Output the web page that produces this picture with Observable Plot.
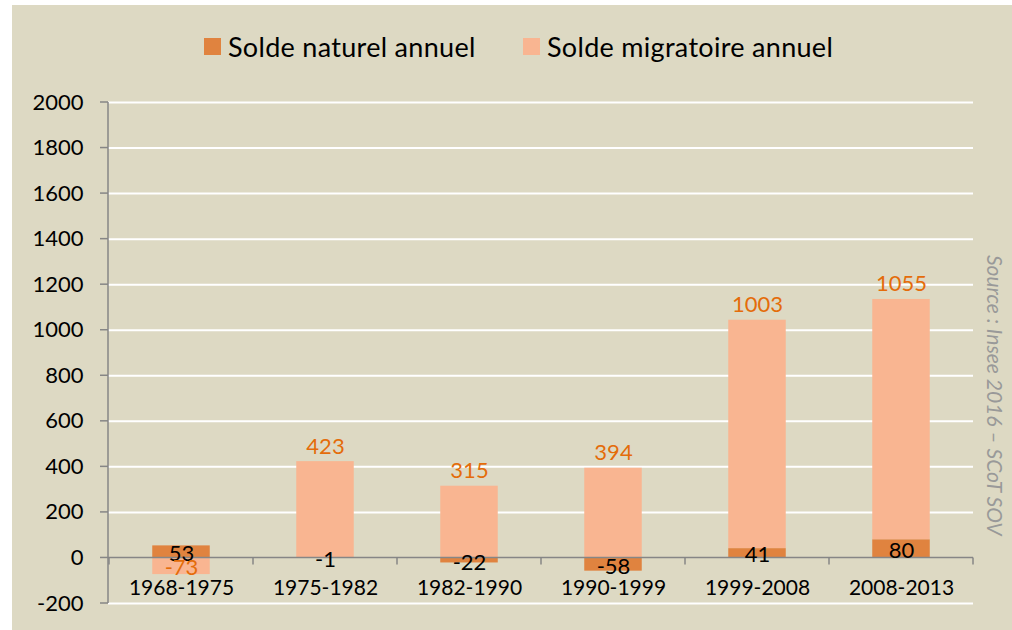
<!DOCTYPE html>
<html>
<head>
<meta charset="utf-8">
<script src="https://cdn.jsdelivr.net/npm/d3@7"></script>
<script src="https://cdn.jsdelivr.net/npm/@observablehq/plot@0.6"></script>
<style>
  html, body { margin: 0; padding: 0; background: #ffffff; }
  body { position: relative; width: 1012px; height: 630px; overflow: hidden; font-family: Lato, "Noto Sans", sans-serif; }
  #panel { position: absolute; left: 12px; top: 5px; width: 1000px; height: 625px; background: #DDD9C3; }
  .leg { position: absolute; top: 29px; height: 34px; display: flex; align-items: center; font-size: 27px; letter-spacing: 0.3px; color: #000; white-space: nowrap; }
  .sw { width: 17px; height: 17px; margin-right: 7px; flex: none; }
  #chart { position: absolute; left: 0; top: 80px; }
  #source { position: absolute; left: 984px; top: 255px; writing-mode: vertical-rl; font-style: italic; color: #999999; font-size: 21px; white-space: nowrap; line-height: 22px; }
</style>
</head>
<body>
<div id="panel"></div>
<div id="legend"></div>
<div id="chart"></div>
<div id="source"></div>
<script>
// ---- data ----
const periods = ["1968-1975", "1975-1982", "1982-1990", "1990-1999", "1999-2008", "2008-2013"];
const natural = [53, -1, -22, -58, 41, 80];
const migratory = [-73, 423, 315, 394, 1003, 1055];
const seriesNames = ["Solde naturel annuel", "Solde migratoire annuel"];
const yTicks = [-200, 0, 200, 400, 600, 800, 1000, 1200, 1400, 1600, 1800, 2000];
const sourceText = "Source : Insee 2016 – SCoT SOV";

// ---- styles ----
const DARK = "#E0833F";
const LIGHT = "#F9B591";
const LABEL_ORANGE = "#E46C0A";
const AXIS_GRAY = "#868686";

// legend
const legendLefts = [204, 523];
const legend = document.getElementById("legend");
seriesNames.forEach((name, i) => {
  const item = document.createElement("div");
  item.className = "leg";
  item.style.left = legendLefts[i] + "px";
  const sw = document.createElement("span");
  sw.className = "sw";
  sw.style.background = i === 0 ? DARK : LIGHT;
  const t = document.createElement("span");
  t.textContent = name;
  item.appendChild(sw); item.appendChild(t);
  legend.appendChild(item);
});
document.getElementById("source").textContent = sourceText;

// table
const rows = periods.flatMap((p, i) => [
  {period: p, series: seriesNames[0], value: natural[i]},
  {period: p, series: seriesNames[1], value: migratory[i]}
]);
const natRows = periods.map((p, i) => ({period: p, value: natural[i]}));
const migRows = periods.map((p, i) => ({
  period: p, value: migratory[i],
  top: Math.max(0, natural[i]) + migratory[i],
  mid: (migratory[i] >= 0 ? Math.max(0, natural[i]) : Math.min(0, natural[i])) + migratory[i] / 2
}));

const W = 1012, H = 545, mL = 108, mR = 39, mT = 22, mB = 22;
const step = (W - mL - mR) / periods.length;
const inset = step * 0.3;

function axisDecor(index, scales, values, dims) {
  const {x, y} = scales;
  const g = d3.create("svg:g").attr("stroke", AXIS_GRAY).attr("stroke-width", 1.5).attr("fill", "none");
  const left = dims.marginLeft, right = dims.width - dims.marginRight;
  const y0 = y(0);
  const yMin = y(d3.min(yTicks)), yMax = y(d3.max(yTicks));
  g.append("line").attr("x1", left).attr("x2", left).attr("y1", yMax).attr("y2", yMin);
  for (const t of yTicks) g.append("line").attr("x1", left - 8).attr("x2", left).attr("y1", y(t)).attr("y2", y(t));
  g.append("line").attr("x1", left).attr("x2", right).attr("y1", y0).attr("y2", y0);
  const bounds = periods.map(p => x(p)).concat([x(periods[periods.length - 1]) + x.step()]);
  for (const b of bounds) g.append("line").attr("x1", b).attr("x2", b).attr("y1", y0).attr("y2", y0 + 7);
  return g.node();
}

const chart = Plot.plot({
  width: W, height: H,
  marginLeft: mL, marginRight: mR, marginTop: mT, marginBottom: mB,
  style: {background: "transparent", fontFamily: "Lato, 'Noto Sans', sans-serif", overflow: "visible"},
  x: {domain: periods, padding: 0, axis: null},
  y: {domain: [d3.min(yTicks), d3.max(yTicks)], axis: null},
  color: {domain: seriesNames, range: [DARK, LIGHT]},
  marks: [
    Plot.ruleY(yTicks.filter(d => d !== 0), {stroke: "#ffffff", strokeWidth: 2}),
    Plot.barY(rows, {x: "period", y: "value", fill: "series", order: seriesNames, insetLeft: inset, insetRight: inset}),
    axisDecor,
    Plot.text(yTicks, {frameAnchor: "left", y: d => d, text: d => String(d), textAnchor: "end", dx: -25, fontSize: 22, fill: "#000"}),
    Plot.text(periods, {x: d => d, y: () => 0, text: d => d, dy: 30, fontSize: 21, fill: "#000"}),
    Plot.text(natRows, {x: "period", y: d => d.value / 2, text: d => String(d.value), dy: 2, fontSize: 22, fill: "#000"}),
    Plot.text(migRows.filter(d => d.value >= 0), {x: "period", y: "top", text: d => String(d.value), lineAnchor: "bottom", dy: -8, fontSize: 22, fill: LABEL_ORANGE}),
    Plot.text(migRows.filter(d => d.value < 0), {x: "period", y: "mid", text: d => String(d.value), dy: 2, fontSize: 22, fill: LABEL_ORANGE})
  ]
});
document.getElementById("chart").appendChild(chart);
</script>
</body>
</html>
